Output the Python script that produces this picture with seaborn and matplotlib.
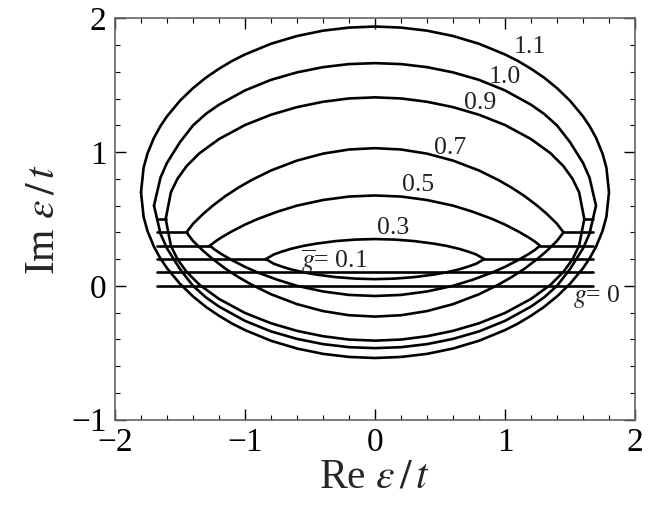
import matplotlib
matplotlib.use("Agg")
import matplotlib.pyplot as plt
import seaborn as sns
import pandas as pd

# disorder strengths and the vertical offset each spectrum is drawn at
G_VALUES = [0.0, 0.1, 0.3, 0.5, 0.7, 0.9, 1.0, 1.1]
OFFSETS = [0.0, 0.1, 0.2, 0.3, 0.4, 0.5, 0.6, 0.7]
LABELS = [r"$\overline{g}$= 0", r"$\overline{g}$= 0.1", "0.3", "0.5", "0.7", "0.9", "1.0", "1.1"]

# outer end of the real (localized) part of each spectrum
REAL_EDGE = 1.68

# complex branch of each spectrum: Re eps / t and the half-height of the loop above/below its offset
LOOP_X = {
    0.3: [0.0, 0.15, 0.3, 0.45, 0.55, 0.65, 0.72, 0.78, 0.84],
    0.5: [0.0, 0.2, 0.4, 0.6, 0.75, 0.9, 1.0, 1.1, 1.18, 1.23, 1.27],
    0.7: [0.0, 0.2, 0.4, 0.6, 0.8, 0.95, 1.05, 1.15, 1.25, 1.32, 1.40, 1.45],
    0.9: [0.0, 0.2, 0.4, 0.6, 0.8, 1.0, 1.2, 1.35, 1.45, 1.52, 1.57, 1.61],
    1.0: [0.0, 0.2, 0.4, 0.6, 0.8, 1.0, 1.2, 1.3, 1.4, 1.5, 1.6, 1.65, 1.70],
    1.1: [0.0, 0.2, 0.4, 0.6, 0.8, 1.0, 1.1, 1.2, 1.3, 1.4, 1.5, 1.6, 1.65, 1.7, 1.75, 1.78, 1.80],
}
LOOP_H = {
    0.3: [0.150, 0.146, 0.135, 0.116, 0.099, 0.076, 0.055, 0.034, 0.0],
    0.5: [0.376, 0.368, 0.342, 0.300, 0.255, 0.201, 0.158, 0.108, 0.063, 0.031, 0.0],
    0.7: [0.630, 0.620, 0.589, 0.537, 0.463, 0.391, 0.335, 0.272, 0.198, 0.140, 0.064, 0.0],
    0.9: [0.910, 0.902, 0.877, 0.837, 0.780, 0.703, 0.598, 0.492, 0.395, 0.300, 0.200, 0.0],
    1.0: [1.066, 1.059, 1.036, 0.997, 0.941, 0.862, 0.755, 0.687, 0.600, 0.475, 0.320, 0.210, 0.0],
    1.1: [1.240, 1.232, 1.209, 1.169, 1.111, 1.031, 0.982, 0.924, 0.858, 0.779, 0.685, 0.568,
          0.496, 0.408, 0.290, 0.184, 0.0],
}

# label anchor positions (data coordinates)
LABEL_X = [1.71, -0.31, 0.14, 0.33, 0.58, 0.81, 1.00, 1.19]
LABEL_Y = [-0.08, 0.18, 0.43, 0.755, 1.03, 1.37, 1.56, 1.79]

sns.set_style("ticks")
plt.rcParams["font.family"] = ["Liberation Serif", "DejaVu Serif"]
plt.rcParams["mathtext.fontset"] = "stix"

fig = plt.figure(figsize=(6.57, 5.08), dpi=100)
ax = fig.add_axes([115 / 657, 88.5 / 508, 520 / 657, 401 / 508])

LW = 1.9


def trace(xv, yv):
    df = pd.DataFrame({"re": xv, "im": yv})
    sns.lineplot(data=df, x="re", y="im", sort=False, estimator=None,
                 color="black", lw=LW, ax=ax)


for g, off in zip(G_VALUES, OFFSETS):
    if g in LOOP_X:
        xs, hs = LOOP_X[g], LOOP_H[g]
        # closed loop: upper arc left to right, lower arc right to left
        px = [-x for x in xs[::-1]] + xs[1:] + xs[::-1][1:] + [-x for x in xs[1:]]
        py = ([off + h for h in hs[::-1]] + [off + h for h in hs[1:]]
              + [off - h for h in hs[::-1][1:]] + [off - h for h in hs[1:]])
        trace(px, py)
        edge = xs[-1]
        if edge < REAL_EDGE:
            trace([-REAL_EDGE, -edge], [off, off])
            trace([edge, REAL_EDGE], [off, off])
    else:
        trace([-REAL_EDGE, REAL_EDGE], [off, off])

for lab, lx, ly in zip(LABELS, LABEL_X, LABEL_Y):
    ax.text(lx, ly, lab, fontsize=18.5, ha="center", va="center", color="#222222")

ax.set_xlim(-2, 2)
ax.set_ylim(-1, 2)
ax.set_xticks([-2, -1, 0, 1, 2])
ax.set_yticks([-1, 0, 1, 2])
ax.set_xticks([i * 0.2 - 2 for i in range(21)], minor=True)
ax.set_yticks([i * 0.2 - 1 for i in range(16)], minor=True)
ax.tick_params(which="both", direction="in", top=True, right=True, colors="black",
               labelsize=24, pad=6)
ax.tick_params(which="major", length=8, width=1)
ax.tick_params(which="minor", length=3.5, width=0.8)
for sp in ax.spines.values():
    sp.set_color("#666666")
    sp.set_linewidth(1.2)

ax.set_xlabel(r"Re $\varepsilon\,/\,t$", fontsize=30, labelpad=0)
ax.set_ylabel(r"Im $\varepsilon\,/\,t$", fontsize=30, labelpad=6)

fig.savefig("out.png", dpi=100)
